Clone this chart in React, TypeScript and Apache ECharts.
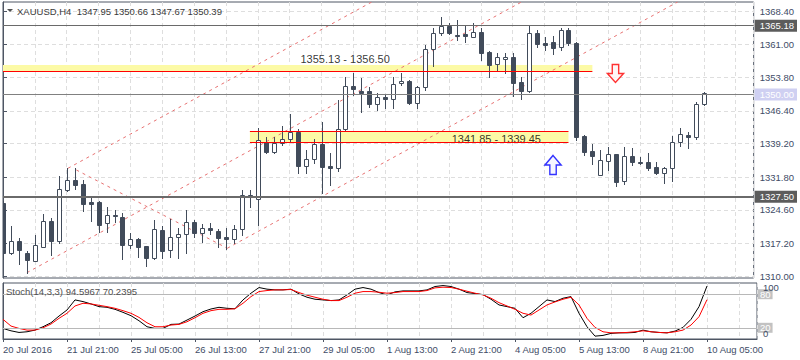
import React, { useEffect, useRef } from "react";
import * as echarts from "echarts";

const symbolName = "XAUUSD,H4";
const timeLabels = ["20 Jul 2016", "21 Jul 21:00", "25 Jul 05:00", "26 Jul 13:00", "27 Jul 21:00", "29 Jul 05:00", "1 Aug 13:00", "2 Aug 21:00", "4 Aug 05:00", "5 Aug 13:00", "8 Aug 21:00", "10 Aug 05:00"];
const timeLabelBars = [0, 8, 16, 24, 32, 40, 48, 56, 64, 72, 80, 88];

const opens = [1326.04, 1315.15, 1317.73, 1315.15, 1313.39, 1316.48, 1322.14, 1317.80, 1328.97, 1331.18, 1330.29, 1326.39, 1326.39, 1321.63, 1323.40, 1322.96, 1316.92, 1318.11, 1316.63, 1313.92, 1320.16, 1315.75, 1318.55, 1319.21, 1321.85, 1319.43, 1320.53, 1319.94, 1318.55, 1318.11, 1320.31, 1327.87, 1327.03, 1339.62, 1337.41, 1339.26, 1340.14, 1341.69, 1334.33, 1335.74, 1339.11, 1334.26, 1333.75, 1342.35, 1351.89, 1350.79, 1350.79, 1347.86, 1349.40, 1348.96, 1352.48, 1352.99, 1348.08, 1351.73, 1359.98, 1363.50, 1365.11, 1363.19, 1363.28, 1362.75, 1363.72, 1359.45, 1356.74, 1357.77, 1358.35, 1352.84, 1350.85, 1363.50, 1361.30, 1361.58, 1360.42, 1364.23, 1361.43, 1340.94, 1337.57, 1332.28, 1335.43, 1336.90, 1331.02, 1336.46, 1335.21, 1335.14, 1334.04, 1332.65, 1333.75, 1339.62, 1341.09, 1340.58, 1347.95];
const highs = [1326.55, 1321.04, 1318.33, 1315.53, 1319.06, 1323.68, 1322.74, 1332.06, 1333.75, 1333.75, 1331.18, 1327.36, 1326.61, 1325.16, 1324.56, 1323.84, 1319.43, 1318.40, 1316.63, 1322.36, 1321.04, 1322.51, 1320.53, 1324.56, 1322.36, 1321.48, 1321.63, 1320.31, 1320.53, 1321.26, 1328.97, 1328.97, 1342.70, 1340.72, 1340.72, 1343.07, 1345.72, 1342.35, 1337.79, 1340.14, 1344.02, 1337.13, 1348.80, 1353.81, 1354.82, 1353.59, 1351.73, 1350.28, 1350.13, 1353.94, 1354.82, 1353.21, 1351.89, 1360.92, 1364.60, 1367.16, 1365.84, 1366.43, 1365.33, 1365.71, 1364.60, 1359.60, 1359.09, 1359.09, 1359.09, 1353.94, 1365.11, 1364.23, 1362.75, 1362.91, 1364.60, 1364.60, 1361.52, 1341.09, 1339.11, 1337.79, 1338.51, 1337.01, 1338.51, 1338.16, 1336.31, 1337.19, 1335.21, 1334.11, 1340.87, 1342.70, 1341.82, 1348.43, 1350.66];
const lows = [1313.70, 1314.87, 1312.66, 1310.75, 1313.33, 1316.34, 1314.65, 1317.36, 1328.82, 1329.13, 1324.34, 1322.14, 1319.78, 1319.78, 1321.99, 1313.70, 1316.26, 1314.14, 1312.29, 1313.77, 1313.92, 1314.27, 1313.92, 1315.15, 1318.68, 1317.58, 1319.21, 1316.48, 1315.90, 1317.23, 1319.06, 1325.29, 1321.26, 1337.06, 1337.06, 1338.89, 1339.62, 1332.65, 1332.65, 1334.85, 1328.38, 1330.07, 1333.23, 1342.19, 1349.91, 1346.23, 1347.33, 1346.60, 1346.97, 1346.97, 1352.11, 1347.86, 1346.97, 1351.01, 1356.30, 1363.13, 1363.35, 1362.03, 1361.65, 1362.62, 1357.62, 1353.94, 1355.41, 1354.69, 1349.69, 1349.02, 1350.63, 1360.42, 1359.82, 1358.87, 1359.82, 1360.92, 1339.99, 1336.68, 1334.70, 1332.20, 1333.38, 1329.85, 1330.29, 1334.48, 1334.70, 1333.38, 1332.50, 1330.58, 1331.02, 1338.67, 1338.16, 1340.14, 1347.67];
const closes = [1315.15, 1317.73, 1315.75, 1313.55, 1316.79, 1322.14, 1317.80, 1329.13, 1331.18, 1330.07, 1325.89, 1325.89, 1321.26, 1323.40, 1323.29, 1316.92, 1318.11, 1316.48, 1313.92, 1320.31, 1315.60, 1318.55, 1319.21, 1321.85, 1319.43, 1320.53, 1320.16, 1318.46, 1318.11, 1320.31, 1327.87, 1327.36, 1339.99, 1337.41, 1339.26, 1340.21, 1341.69, 1334.33, 1335.74, 1339.04, 1334.11, 1333.75, 1342.35, 1351.89, 1351.29, 1350.41, 1347.86, 1349.40, 1348.96, 1352.26, 1352.99, 1348.08, 1351.73, 1359.98, 1363.50, 1365.11, 1363.50, 1363.06, 1362.91, 1363.72, 1359.23, 1356.52, 1358.21, 1358.35, 1352.62, 1350.85, 1363.50, 1361.14, 1360.92, 1360.33, 1364.23, 1361.43, 1340.72, 1337.41, 1336.46, 1335.58, 1336.90, 1330.80, 1336.46, 1335.21, 1335.17, 1333.89, 1332.65, 1333.75, 1339.48, 1341.25, 1340.58, 1347.86, 1350.39];

const stochK = [18.9, 14.6, 11.7, 12.9, 15.9, 21.9, 29, 41, 51.8, 69.8, 66.8, 62.6, 57.8, 56.6, 53, 47.6, 41.6, 32.6, 21.9, 18.9, 18.9, 26.1, 26.7, 33.8, 41, 48.8, 53.6, 56.6, 54.8, 54, 69.8, 81.8, 91.9, 89, 87.7, 87.7, 89, 80.5, 74.6, 71, 69.8, 68.6, 69.8, 78.7, 89, 91.9, 89, 82.9, 78.7, 84.1, 85.9, 85.9, 85.9, 87.7, 93.7, 95.4, 93.7, 89, 82.9, 81.1, 79.3, 71, 60.8, 57.8, 54.8, 38, 45.9, 57.8, 69.8, 66.8, 72.8, 75.7, 45.9, 21.9, 5.1, 6.4, 10, 11, 11, 11.7, 15.9, 12.9, 11.7, 11, 14.1, 20.7, 35.1, 57.8, 94.5967];
const stochD = [35.1, 23.1, 18.9, 15.9, 15.9, 20, 26.7, 36.9, 45.9, 59, 63.8, 62.6, 60.2, 57.8, 54.8, 50.6, 45.9, 38.6, 29, 21.9, 21.9, 24.9, 26.1, 30.8, 38, 45.9, 50.6, 53, 53, 54, 63.8, 75.7, 84.7, 86.5, 87.7, 87.7, 88.4, 82.9, 78.2, 74.6, 71, 68.6, 68.6, 74.6, 81.8, 84.7, 84.7, 83.5, 81.8, 82.9, 84.7, 84.7, 84.7, 86.5, 91.3, 92.5, 91.9, 89, 85.3, 81.8, 78.7, 72.8, 64.9, 59, 53, 45.9, 42.8, 51.8, 60.8, 66.2, 71, 74.6, 60.8, 36.9, 20.7, 12.9, 11, 11, 11.7, 12.9, 14.6, 12.9, 11.7, 11, 12.9, 15.9, 24.9, 39.8, 70.2395];

const priceTicks = [1310.0, 1317.2, 1324.6, 1331.8, 1339.2, 1346.4, 1353.8, 1361.0, 1368.4];
const markedPrices = [1365.18, 1350.0, 1327.5];
const resistanceZone = [1355.13, 1356.5];
const resistanceZoneBars = [0, 74];
const supportZone = [1341.85, 1339.45];
const supportZoneBars = [31, 71];
const channelLines = [
  [[3, 1310.75], [65.1, 1370.4]],
  [[8.16, 1333.76], [46.3, 1370.4]],
  [[9.21, 1333.38], [28.16, 1316.13]],
  [[28.16, 1316.13], [84.7, 1370.4]],
];
const arrowSell = [76.9, 1354.65];
const arrowBuy = [69.06, 1334.48];
const stochLevels = [20, 80];
const stochRange = [0, 100];

const X_MAX = 94.25;
const Y_MIN = 1309.58;
const Y_MAX = 1370.4;

const FONT = "'Liberation Sans', Arial, sans-serif";
const CANDLE = "#414b5a";
const FRAME = "#4e5664";
const GRID = "#dedede";
const LABEL = "#3e4c66";

export default function App() {
  const ref = useRef<HTMLDivElement>(null);
  useEffect(() => {
    const chart = echarts.init(ref.current!, undefined, { renderer: "svg" });
    const candles = opens.map((o, i) => [i, o, closes[i], lows[i], highs[i]]);
    const last = candles.length - 1;
    const title = `${symbolName}  ${opens[last].toFixed(2)} ${highs[last].toFixed(2)} ${lows[last].toFixed(2)} ${closes[last].toFixed(2)}`;
    const stochTitle = `Stoch(14,3,3) ${stochK[last].toFixed(4)} ${stochD[last].toFixed(4)}`;

    const splitDash = { show: true, lineStyle: { color: GRID, type: [4, 3], width: 1 } };

    const option: any = {
      animation: false,
      backgroundColor: "#ffffff",
      textStyle: { fontFamily: FONT },
      grid: [
        { left: 3, top: 2, width: 754, height: 276, show: true, borderColor: FRAME, borderWidth: 1, backgroundColor: "transparent" },
        { left: 3, top: 283, width: 754, height: 56, show: true, borderColor: FRAME, borderWidth: 1, backgroundColor: "transparent" },
      ],
      xAxis: [
        { type: "value", gridIndex: 0, min: 0, max: X_MAX, interval: 4, axisLine: { show: false }, axisTick: { show: false }, axisLabel: { show: false }, splitLine: splitDash },
        { type: "value", gridIndex: 1, position: "top", min: 0, max: X_MAX, interval: 4, axisLine: { show: false }, axisTick: { show: false }, axisLabel: { show: false }, splitLine: splitDash },
        {
          type: "value", gridIndex: 1, position: "bottom", min: 0, max: X_MAX,
          axisLine: { show: true, lineStyle: { color: FRAME } },
          axisTick: { show: true, customValues: timeLabelBars, length: 3, lineStyle: { color: FRAME } },
          axisLabel: {
            customValues: timeLabelBars,
            formatter: (v: number) => timeLabels[timeLabelBars.indexOf(v)] ?? "",
            align: "left", margin: 5, fontSize: 9.5, color: LABEL, fontFamily: FONT,
            showMinLabel: true, showMaxLabel: true,
          },
          splitLine: { show: false },
        },
      ],
      yAxis: [
        {
          type: "value", gridIndex: 0, position: "right", min: Y_MIN, max: Y_MAX,
          axisLine: { show: true, lineStyle: { color: FRAME } },
          axisTick: { show: true, customValues: priceTicks, length: 4, lineStyle: { color: FRAME } },
          axisLabel: {
            customValues: [...priceTicks, ...markedPrices],
            margin: 1, align: "left", fontFamily: FONT,
            showMinLabel: true, showMaxLabel: true,
            formatter: (v: number) => {
              const s = v.toFixed(2);
              if (v === markedPrices[1]) return `{hl|${s}}`;
              if (markedPrices.includes(v)) return `{hd|${s}}`;
              return `{n|${s}}`;
            },
            rich: {
              n: { fontSize: 9.5, color: LABEL, padding: [0, 0, 0, 5], fontFamily: FONT },
              hd: { fontSize: 9.5, color: "#ffffff", backgroundColor: "#5c5c5c", padding: [1, 3, 1, 5], fontFamily: FONT },
              hl: { fontSize: 9.5, color: "#ffffff", backgroundColor: "#cfd0f2", padding: [1, 3, 1, 5], fontFamily: FONT },
            },
          },
          splitLine: splitDash,
        },
        {
          type: "value", gridIndex: 1, position: "right", min: 0, max: 100,
          axisLine: { show: true, lineStyle: { color: FRAME } },
          axisTick: { show: false },
          axisLabel: {
            customValues: stochLevels, margin: 1, align: "left", fontFamily: FONT,
            formatter: (v: number) => `{b|${v}}`,
            rich: {
              b: { fontSize: 9.5, color: "#ffffff", backgroundColor: "#c2c2c2", padding: [0, 2, 0, 2], fontFamily: FONT },
            },
          },
          splitLine: { show: false },
        },
        {
          type: "value", gridIndex: 1, position: "right", min: 0, max: 100,
          axisLine: { show: false },
          axisTick: { show: false },
          axisLabel: {
            customValues: stochRange, margin: 1, align: "left", fontFamily: FONT,
            showMinLabel: true, showMaxLabel: true,
            formatter: (v: number) => (v === 100 ? `{t|${v}}` : `{bt|${v}}`),
            rich: {
              t: { fontSize: 9.5, color: LABEL, padding: [9, 0, 0, 5], fontFamily: FONT },
              bt: { fontSize: 9.5, color: LABEL, padding: [0, 0, 11, 5], fontFamily: FONT },
            },
          },
          splitLine: { show: false },
        },
      ],
      series: [
        {
          name: "levels", type: "line", xAxisIndex: 0, yAxisIndex: 0, data: [], z: 1, silent: true,
          markArea: {
            silent: true,
            itemStyle: { color: "#fcfaa6" },
            data: [
              [{ coord: [resistanceZoneBars[0], resistanceZone[1]] }, { coord: [resistanceZoneBars[1], resistanceZone[0]] }],
              [{ coord: [supportZoneBars[0], supportZone[0]] }, { coord: [supportZoneBars[1], supportZone[1]] }],
            ],
          },
          markLine: {
            silent: true, symbol: ["none", "none"], label: { show: false },
            data: [
              { yAxis: markedPrices[0], lineStyle: { color: "#6a6a6a", width: 1, type: "solid" } },
              { yAxis: markedPrices[1], lineStyle: { color: "#808080", width: 1, type: "solid" } },
              { yAxis: markedPrices[2], lineStyle: { color: "#6a6a6a", width: 2, type: "solid" } },
              [{ coord: [resistanceZoneBars[0], resistanceZone[0]], lineStyle: { color: "#ff0000", width: 1, type: "solid" } }, { coord: [resistanceZoneBars[1], resistanceZone[0]] }],
              [{ coord: [supportZoneBars[0], supportZone[0]], lineStyle: { color: "#ff0000", width: 1, type: "solid" } }, { coord: [supportZoneBars[1], supportZone[0]] }],
              [{ coord: [supportZoneBars[0], supportZone[1]], lineStyle: { color: "#ff0000", width: 1, type: "solid" } }, { coord: [supportZoneBars[1], supportZone[1]] }],
            ],
          },
        },
        ...channelLines.map((pts, k) => ({
          name: "channel" + k, type: "line", xAxisIndex: 0, yAxisIndex: 0, data: pts, z: 2, silent: true,
          symbol: "none", lineStyle: { color: "#e77272", width: 1, type: [3, 4] },
        })),
        {
          name: "candles", type: "custom", xAxisIndex: 0, yAxisIndex: 0, z: 3, clip: true,
          data: candles,
          encode: { x: 0, y: [1, 2, 3, 4] },
          renderItem: (params: any, api: any) => {
            const i = api.value(0);
            const o = api.value(1), c = api.value(2), l = api.value(3), h = api.value(4);
            const pO = api.coord([i, o]);
            const pC = api.coord([i, c]);
            const pL = api.coord([i, l]);
            const pH = api.coord([i, h]);
            const x = Math.round(pO[0]) + 0.5;
            const yTop = Math.round(Math.min(pO[1], pC[1])) + 0.5;
            let yBot = Math.round(Math.max(pO[1], pC[1])) + 0.5;
            if (yBot - yTop < 1) yBot = yTop + 1;
            const bull = c >= o;
            return {
              type: "group",
              children: [
                { type: "line", shape: { x1: x, y1: Math.round(pH[1]), x2: x, y2: Math.round(pL[1]) + 1 }, style: { stroke: CANDLE, lineWidth: 1 } },
                { type: "rect", shape: { x: x - 2, y: yTop, width: 4, height: yBot - yTop }, style: { fill: bull ? "#ffffff" : CANDLE, stroke: CANDLE, lineWidth: 1 } },
              ],
            };
          },
        },
        {
          name: "zoneLabels", type: "scatter", xAxisIndex: 0, yAxisIndex: 0, z: 4, silent: true, symbolSize: 0,
          data: [
            { value: [42.96, 1357.84], name: `${resistanceZone[0].toFixed(2)} - ${resistanceZone[1].toFixed(2)}` },
            { value: [61.94, 1340.21], name: `${supportZone[0].toFixed(2)} - ${supportZone[1].toFixed(2)}` },
          ],
          label: { show: true, position: "inside", formatter: "{b}", color: "#000000", fontSize: 11, fontFamily: FONT },
        },
        {
          name: "sellArrow", type: "scatter", xAxisIndex: 0, yAxisIndex: 0, z: 5, silent: true,
          data: [arrowSell],
          symbol: "path://M30,0L70,0L70,50L100,50L50,100L0,50L30,50Z",
          symbolSize: [16, 18],
          itemStyle: { color: "#fff4f4", borderColor: "#ff0000", borderWidth: 1.5 },
        },
        {
          name: "buyArrow", type: "scatter", xAxisIndex: 0, yAxisIndex: 0, z: 5, silent: true,
          data: [arrowBuy],
          symbol: "path://M50,0L100,50L70,50L70,100L30,100L30,50L0,50Z",
          symbolSize: [16, 19],
          itemStyle: { color: "#f4f4ff", borderColor: "#0000ff", borderWidth: 1.5 },
        },
        {
          name: "%K", type: "line", xAxisIndex: 2, yAxisIndex: 1, z: 4, symbol: "none",
          data: stochK.map((v, i) => [i, v]),
          lineStyle: { color: "#000000", width: 1 },
        },
        {
          name: "%D", type: "line", xAxisIndex: 2, yAxisIndex: 1, z: 4, symbol: "none",
          data: stochD.map((v, i) => [i, v]),
          lineStyle: { color: "#ff0000", width: 1 },
          markLine: {
            silent: true, symbol: ["none", "none"], label: { show: false },
            lineStyle: { color: "#b8b8b8", width: 1, type: "solid" },
            data: stochLevels.map((v) => ({ yAxis: v })),
          },
        },
      ],
      graphic: [
        { type: "polygon", shape: { points: [[7, 9], [13, 9], [10, 12]] }, style: { fill: "#505050" }, z: 10 },
        { type: "text", x: 17, y: 11, style: { text: title, fill: "#3a3a3a", fontSize: 9.5, fontFamily: FONT, verticalAlign: "middle" }, z: 10 },
        { type: "text", x: 6, y: 291, style: { text: stochTitle, fill: "#505050", fontSize: 9.5, fontFamily: FONT, verticalAlign: "middle" }, z: 10 },
      ],
    };
    chart.setOption(option);
    return () => chart.dispose();
  }, []);
  return <div ref={ref} style={{ position: "fixed", left: 0, top: 0, width: 800, height: 360 }} />;
}
